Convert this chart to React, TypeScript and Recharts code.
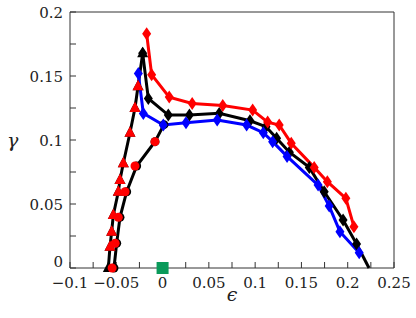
import { ComposedChart, Scatter, ReferenceDot, XAxis, YAxis } from 'recharts'

// tick positions
const xTicks = [-0.1, -0.075, -0.05, -0.025, 0, 0.025, 0.05, 0.075, 0.1, 0.125, 0.15, 0.175, 0.2, 0.225, 0.25]
const yTicks = [0, 0.025, 0.05, 0.075, 0.1, 0.125, 0.15, 0.175, 0.2]

// black curve, rising branch (triangles) up to the peak
const blackRise: [number, number][] = [
  [-0.0586, 0], [-0.0568, 0.0166], [-0.055, 0.0284], [-0.0532, 0.0414], [-0.0478, 0.0596],
  [-0.046, 0.0687], [-0.0424, 0.0818], [-0.0352, 0.1057], [-0.0298, 0.125], [-0.0265, 0.142],
  [-0.0215, 0.1677],
]
// black curve, falling branch (diamonds) from the peak; ends on the axis
const blackFall: [number, number][] = [
  [-0.0215, 0.1677], [-0.0154, 0.1325], [0.0062, 0.1195], [0.029, 0.1195], [0.0612, 0.1208],
  [0.0944, 0.115], [0.1117, 0.1104], [0.1232, 0.1013], [0.137, 0.0905], [0.1585, 0.0786],
  [0.1746, 0.0596], [0.195, 0.0375], [0.2096, 0.0187],
]
const blackEnd: [number, number][] = [[0.2096, 0.0187], [0.223, 0]]
// black lower branch (circles)
const blackLow: [number, number][] = [
  [-0.0525, 0], [-0.0496, 0.0193], [-0.046, 0.0396], [-0.0388, 0.0596], [-0.028, 0.0797],
  [-0.0082, 0.0987], [0.0015, 0.112],
]
const blue: [number, number][] = [
  [-0.0262, 0.152], [-0.0208, 0.1208], [0.0008, 0.1117], [0.0253, 0.1135], [0.059, 0.1156],
  [0.0908, 0.1117], [0.1088, 0.1057], [0.1189, 0.0987], [0.1345, 0.0872], [0.168, 0.0648],
  [0.18, 0.0484], [0.1916, 0.0284], [0.2124, 0.012],
]
const red: [number, number][] = [
  [-0.0172, 0.183], [-0.0118, 0.151], [0.0072, 0.1335], [0.032, 0.1286], [0.065, 0.127],
  [0.0973, 0.1234], [0.1135, 0.114], [0.126, 0.1117], [0.139, 0.0975], [0.1638, 0.0786],
  [0.178, 0.0674], [0.198, 0.0544], [0.2067, 0.0323],
]
const redTriangles: [number, number][] = [
  [-0.0568, 0.0166], [-0.055, 0.0284], [-0.0532, 0.0414], [-0.0478, 0.0596], [-0.046, 0.0687],
  [-0.0424, 0.0818], [-0.0352, 0.1057], [-0.0298, 0.125], [-0.0265, 0.142],
]
const redCircles: [number, number][] = [
  [-0.0545, 0], [-0.0512, 0.0193], [-0.0478, 0.0396], [-0.0405, 0.0596], [-0.0298, 0.0797],
  [-0.0082, 0.0987],
]
const greenSquare: [number, number][] = [[0, 0]]

const rows = (a: [number, number][]) => a.map(([x, y]) => ({ x, y }))

const fmt = (v: number) => {
  const k = v / 0.05
  if (Math.abs(k - Math.round(k)) > 1e-6) return ''
  return String(Math.round(v * 1000) / 1000).replace('-', '\u2212')
}

const serif = '"DejaVu Serif", "Liberation Serif", serif'
const textColor = '#222'
const axisColor = '#333'

const diamond = (color: string) => (p: any) => (
  <path fill={color}
    d={`M${p.cx},${p.cy - 6.5}L${p.cx + 4.5},${p.cy}L${p.cx},${p.cy + 6.5}L${p.cx - 4.5},${p.cy}Z`} />
)
const triangle = (color: string) => (p: any) => (
  <path fill={color} d={`M${p.cx},${p.cy - 6.5}L${p.cx + 5.5},${p.cy + 4}L${p.cx - 5.5},${p.cy + 4}Z`} />
)
const circle = (color: string) => (p: any) => <circle cx={p.cx} cy={p.cy} r={4.5} fill={color} />
const square = (color: string) => (p: any) => (
  <rect x={p.cx - 6} y={p.cy - 6} width={12} height={12} fill={color} />
)
const none = () => <g />

// markers go in as reference dots so the ones sitting on the axis are not cut off
const markers = (name: string, pts: [number, number][], shape: (p: any) => any) =>
  pts.map(([x, y], i) => (
    <ReferenceDot key={`${name}-${i}`} xAxisId="b" yAxisId="l" x={x} y={y} ifOverflow="visible" shape={shape} />
  ))

const XTick = (p: any) => (
  <text x={p.x} y={p.y} dy={11.5} textAnchor="middle" fill={textColor} fontSize={15} fontFamily={serif}>
    {fmt(p.payload.value)}
  </text>
)
const YTick = (p: any) => (
  <text x={p.x} y={p.y} dy={p.payload.value === 0 ? -1 : 5.5} textAnchor="end" fill={textColor} fontSize={15}
    fontFamily={serif}>
    {fmt(p.payload.value)}
  </text>
)

export default function App() {
  const common = { xAxisId: 'b', yAxisId: 'l', dataKey: 'y', lineType: 'joint' as const, isAnimationActive: false, shape: none }
  const ln = (c: string) => ({ stroke: c, strokeWidth: 3, fill: 'none' })
  return (
    <div style={{ position: 'absolute', left: 0, top: 0, width: 416, height: 318, background: '#fff', fontFamily: serif }}>
      <ComposedChart width={416} height={318} margin={{ top: 11, right: 21, bottom: 0, left: 0 }}>
        <XAxis xAxisId="b" dataKey="x" type="number" domain={[-0.1, 0.25]} ticks={xTicks} interval={0}
          tickSize={-6} tickMargin={14} height={50} stroke={axisColor} tick={XTick}
          label={{ value: 'ϵ', position: 'insideBottom', offset: 17, fill: textColor, fontSize: 19, fontStyle: 'italic', fontFamily: serif }} />
        <XAxis xAxisId="t" orientation="top" dataKey="x" type="number" domain={[-0.1, 0.25]} ticks={xTicks}
          interval={0} tick={false} tickSize={-6} height={1} stroke={axisColor} />
        <YAxis yAxisId="l" dataKey="y" type="number" domain={[0, 0.2]} ticks={yTicks} interval={0}
          tickSize={-6} tickMargin={13} width={70} stroke={axisColor} tick={YTick}
          label={{ value: 'γ', position: 'insideLeft', offset: 7, fill: textColor, fontSize: 19, fontStyle: 'italic', fontFamily: serif }} />
        <YAxis yAxisId="r" orientation="right" dataKey="y" type="number" domain={[0, 0.2]} ticks={yTicks} interval={0}
          tick={false} tickSize={-6} width={1} stroke={axisColor} />

        <Scatter {...common} data={rows(blackLow)} line={ln('#000')} />
        <Scatter {...common} data={rows(blackRise)} line={ln('#000')} />
        <Scatter {...common} data={rows(blackEnd)} line={ln('#000')} />
        <Scatter {...common} data={rows(blackFall)} line={ln('#000')} />
        <Scatter {...common} data={rows(blue)} line={ln('#0000ff')} />
        <Scatter {...common} data={rows(red)} line={ln('#ff0000')} />

        {markers('bl', blackLow, circle('#000'))}
        {markers('br', blackRise, triangle('#000'))}
        {markers('bf', blackFall, diamond('#000'))}
        {markers('b', blue, diamond('#0000ff'))}
        {markers('r', red, diamond('#ff0000'))}
        {markers('rt', redTriangles, triangle('#ff0000'))}
        {markers('rc', redCircles, circle('#ff0000'))}
        {markers('g', greenSquare, square('#0a9a5a'))}
      </ComposedChart>
    </div>
  )
}
